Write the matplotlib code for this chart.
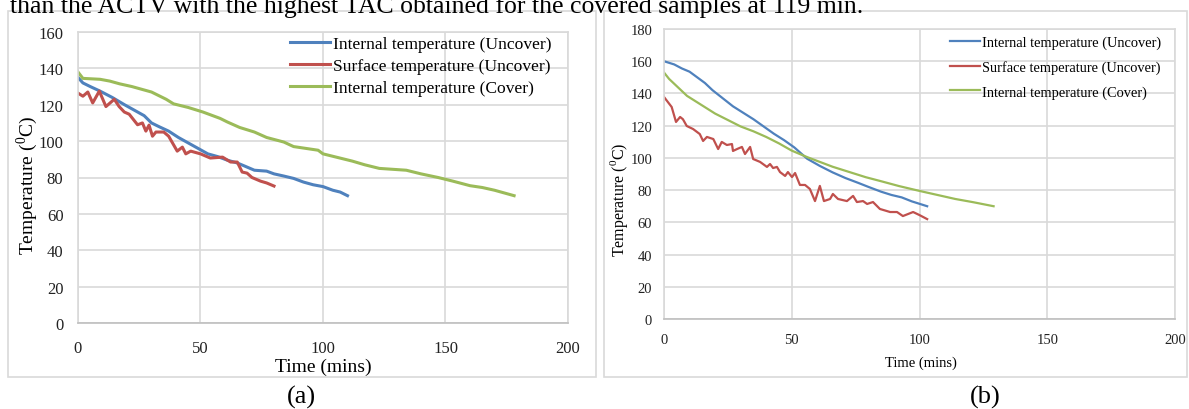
import matplotlib
matplotlib.use("Agg")

import matplotlib.pyplot as plt
from matplotlib.patches import Rectangle

plt.rcParams['font.family'] = ['Liberation Serif', 'DejaVu Serif']
plt.rcParams['mathtext.fontset'] = 'custom'
plt.rcParams['mathtext.rm'] = 'Liberation Serif'

W, H = 1189, 410

labels = ['Internal temperature (Uncover)', 'Surface temperature (Uncover)',
          'Internal temperature (Cover)']
colors = ['#4F81BD', '#C0504D', '#9BBB59']

# panel (a)
a_int_unc_t = [0, 2, 5, 9, 14, 19, 23, 27, 30, 33, 37, 41, 45, 49, 53, 57, 61, 65,
               68, 72, 77, 80, 84, 88, 92, 96, 100, 104, 107, 110]
a_int_unc_y = [135, 132, 130, 127.5, 124, 120, 117, 114, 110, 108, 105.5, 102, 99, 96,
               93, 91.5, 89.5, 88, 86.3, 84, 83.5, 82, 80.8, 79.5, 77.5, 76, 75, 73, 72, 70]
a_surf_unc_t = [0, 2, 4, 6, 8.7, 11.4, 14.8, 16.8, 18.9, 20.9, 24.3, 26.3, 27.7, 29,
                30.4, 31.8, 35, 37, 40.5, 42.6, 44, 46, 50, 54, 59, 62.3, 65, 67, 69, 71,
                74.5, 77, 80]
a_surf_unc_y = [126.4, 124.7, 127, 121, 127.5, 119, 123, 119, 116, 114.8, 109, 110, 105.5,
                108.8, 102.7, 105, 105, 102.7, 94.5, 96.7, 93, 94.5, 93, 90.7, 91.2, 88.5,
                88.5, 83, 82.4, 80, 78, 77, 75.3]
a_int_cov_t = [0, 2, 9, 13, 17, 22, 26, 30, 33, 36, 39, 45, 51, 55, 58, 61, 66, 72, 77,
               84, 88, 93, 98, 100, 106, 112, 117, 123, 134, 140, 147, 153, 160, 165,
               170, 174, 178]
a_int_cov_y = [138, 134.5, 134, 133, 131.5, 130, 128.5, 127, 125, 123, 120.5, 118.5, 116,
               114, 112.5, 110.5, 107.5, 105, 102, 99.5, 97, 96, 95, 93, 91, 89, 87, 85,
               84, 82, 80, 78, 75.5, 74.5, 73, 71.5, 70]

# panel (b)
b_int_unc_t = [0, 4, 7, 10, 13, 16, 19, 23, 27, 31, 35, 39, 43, 47, 51, 56, 61, 66, 71,
               76, 80, 85, 89, 93, 97, 100, 103]
b_int_unc_y = [160, 158, 155.5, 153.5, 150, 146.5, 142, 137, 132, 128, 124, 119.5, 115,
               111, 106.5, 99.5, 95, 91, 87.5, 84.5, 82, 79, 77, 75.5, 73, 71.5, 70]
b_surf_unc_t = [0, 3, 4.7, 6.3, 7.4, 8.9, 11.4, 14, 15.3, 16.8, 19.3, 21.2, 22.6, 24.6,
                26.6, 27, 28.6, 30.5, 31.7, 33.7, 34.9, 37.6, 40.3, 41.5, 42.7, 44.2, 45.4,
                47.4, 48.5, 50.1, 51.3, 53.2, 55.2, 57.1, 59.1, 61, 62.6, 65, 66.1, 68.1,
                71.6, 74, 75.5, 77.9, 79.5, 81.8, 84.5, 88.5, 91.2, 93.5, 97.5, 100, 103]
b_surf_unc_y = [137.8, 131.6, 122.3, 125.4, 124, 119.8, 117.9, 114.8, 110.5, 113, 111.7,
                105.5, 109.9, 108, 108.6, 104.3, 105.5, 106.8, 102.4, 106.8, 99.3, 97.5,
                94.4, 96.2, 93.7, 94.4, 91.2, 88.8, 91.2, 88.1, 90.6, 83.2, 83.2, 80.7,
                73.2, 82.6, 73.2, 74.5, 77.6, 74.5, 73.2, 76.4, 72.6, 73.2, 71.4, 72.6,
                68.3, 66.4, 66.4, 63.9, 66.4, 64.5, 62]
b_int_cov_t = [0, 2, 5, 9, 14, 20, 25, 30, 35, 40, 45, 50, 56, 61, 66, 72, 79, 85, 92,
               100, 107, 114, 121, 129]
b_int_cov_y = [153, 149, 144.5, 138.5, 133.5, 127.5, 123.5, 119.5, 116.5, 113, 109,
               104.5, 100.5, 97.5, 94.5, 91.5, 88, 85.5, 82.5, 79.5, 77, 74.5, 72.5, 70]


def fx(px):
    return px / W


def fy(py):
    return 1 - py / H


fig = plt.figure(figsize=(W / 100, H / 100), dpi=100)

# line of page text above the figure, cut at the top as in the source
fig.text(fx(10), fy(13), 'than the ACTV with the highest TAC obtained for the covered samples at 119 min.',
         fontsize=18.5, va='baseline', ha='left')

# panel borders
for x0, x1 in [(8, 596), (604, 1187)]:
    fig.patches.append(Rectangle((fx(x0), fy(378)), fx(x1) - fx(x0), fy(12) - fy(378),
                                 transform=fig.transFigure, fill=False,
                                 edgecolor='#d9d9d9', linewidth=1.2))


def panel(box, series, ymax, lw, fs, lfs, ypad, xpad, leg):
    l, t, r, b = box
    ax = fig.add_axes([fx(l), fy(b), fx(r) - fx(l), fy(t) - fy(b)])
    for (xs, ys), c, lab in zip(series, colors, labels):
        ax.plot(xs, ys, color=c, lw=lw, label=lab)
    ax.set_xlim(0, 200)
    ax.set_ylim(0, ymax)
    ax.set_xticks(range(0, 201, 50))
    ax.set_yticks(range(0, ymax + 1, 20))
    ax.grid(True, color='#d9d9d9', lw=1.2)
    ax.set_axisbelow(True)
    for s in ['top', 'right', 'left']:
        ax.spines[s].set_color('#d9d9d9')
        ax.spines[s].set_linewidth(1.2)
    ax.spines['bottom'].set_color('#bfbfbf')
    ax.spines['bottom'].set_linewidth(1.2)
    ax.tick_params(axis='both', length=0, labelsize=fs, colors='#222222')
    ax.tick_params(axis='y', pad=ypad)
    ax.tick_params(axis='x', pad=xpad)
    lx, ly, hl, ls = leg
    ax.legend(loc='upper left', bbox_to_anchor=(fx(lx), fy(ly)),
              bbox_transform=fig.transFigure, frameon=False, fontsize=lfs,
              handlelength=hl, handletextpad=0.15, labelspacing=ls,
              borderpad=0, borderaxespad=0)
    return ax


panel((78, 33, 568, 324),
      [(a_int_unc_t, a_int_unc_y), (a_surf_unc_t, a_surf_unc_y), (a_int_cov_t, a_int_cov_y)],
      160, 2.2, 12, 12.6, 10.5, 12, (290, 37, 2.3, 0.33))
fig.text(fx(27), fy(185), 'Temperature ($^{0}$C)', rotation=90, fontsize=14,
         ha='center', va='center')
fig.text(fx(323), fy(367), 'Time (mins)', fontsize=14, ha='center', va='center')
fig.text(fx(301), fy(397), '(a)', fontsize=19, ha='center', va='center')

panel((664, 30, 1175, 320),
      [(b_int_unc_t, b_int_unc_y), (b_surf_unc_t, b_surf_unc_y), (b_int_cov_t, b_int_cov_y)],
      180, 1.6, 10.5, 10.4, 8.5, 10, (950, 37, 2.1, 0.75))
fig.text(fx(619), fy(200), 'Temperature ($^{0}$C)', rotation=90, fontsize=11.5,
         ha='center', va='center')
fig.text(fx(921), fy(363), 'Time (mins)', fontsize=10.5, ha='center', va='center')
fig.text(fx(985), fy(397), '(b)', fontsize=19, ha='center', va='center')

fig.savefig('out.png', dpi=100)
